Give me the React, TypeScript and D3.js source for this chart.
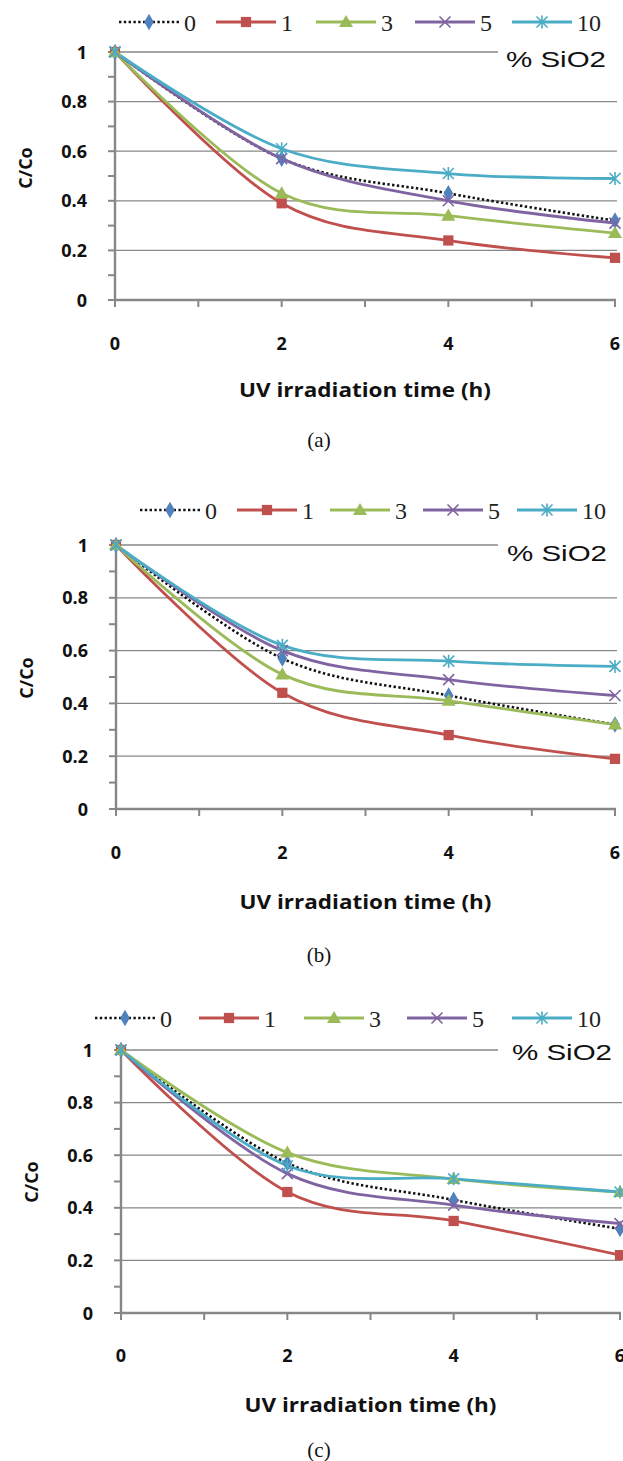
import React from "react";
import * as d3 from "d3";

const times = [0, 2, 4, 6];
const seriesNames = ["0", "1", "3", "5", "10"];
const seriesColors = ["#4F81BD", "#C0504D", "#9BBB59", "#8064A2", "#4BACC6"];
const yMajorTicks = [0, 0.2, 0.4, 0.6, 0.8, 1];
const yMinorTicks = [0.1, 0.3, 0.5, 0.7, 0.9];
const xMajorTicks = [0, 2, 4, 6];
const xMinorTicks = [1, 3, 5];
const panelLabels = ["(a)", "(b)", "(c)"];

// values per series (0,1,3,5,10 % SiO2) at times 0,2,4,6 h
const panelAValues = [
  [1, 0.57, 0.43, 0.32],
  [1, 0.39, 0.24, 0.17],
  [1, 0.43, 0.34, 0.27],
  [1, 0.57, 0.40, 0.31],
  [1, 0.61, 0.51, 0.49],
];
const panelBValues = [
  [1, 0.57, 0.43, 0.32],
  [1, 0.44, 0.28, 0.19],
  [1, 0.51, 0.41, 0.32],
  [1, 0.60, 0.49, 0.43],
  [1, 0.62, 0.56, 0.54],
];
const panelCValues = [
  [1, 0.57, 0.43, 0.32],
  [1, 0.46, 0.35, 0.22],
  [1, 0.61, 0.51, 0.46],
  [1, 0.53, 0.41, 0.34],
  [1, 0.56, 0.51, 0.46],
];
const panelValues = [panelAValues, panelBValues, panelCValues];

const layouts = [
  { x0: 115, x1: 615, yTop: 52, yBot: 300, legendY: 22, legendX: [119, 216, 316, 415, 512], xLabelY: 343, titleY: 390, capY: 440, yTitleY: 168, siBase: 67 },
  { x0: 116, x1: 615, yTop: 545, yBot: 809, legendY: 510, legendX: [140, 237, 330, 423, 517], xLabelY: 852, titleY: 902, capY: 955, yTitleY: 678, siBase: 561 },
  { x0: 121, x1: 620, yTop: 1050, yBot: 1313, legendY: 1018, legendX: [95, 199, 304, 407, 512], xLabelY: 1355, titleY: 1405, capY: 1450, yTitleY: 1182, siBase: 1060 },
];

const GRID = "#878787";
const SANS = "'Open Sans', 'Liberation Sans', sans-serif";
const SERIF = "'Liberation Serif', 'DejaVu Serif', serif";

function Marker({ idx, cx, cy }: { idx: number; cx: number; cy: number }) {
  const c = seriesColors[idx];
  if (idx === 0) {
    const p = d3.symbol().type(d3.symbolDiamond).size(80)();
    return <path d={p!} transform={`translate(${cx},${cy})`} fill={c} />;
  }
  if (idx === 1) {
    const p = d3.symbol().type(d3.symbolSquare).size(105)();
    return <path d={p!} transform={`translate(${cx},${cy})`} fill={c} />;
  }
  if (idx === 2) {
    const p = d3.symbol().type(d3.symbolTriangle).size(85)();
    return <path d={p!} transform={`translate(${cx},${cy + 1})`} fill={c} />;
  }
  const r = 5.5;
  if (idx === 3) {
    return (
      <path
        d={`M${cx - r},${cy - r}L${cx + r},${cy + r}M${cx - r},${cy + r}L${cx + r},${cy - r}`}
        stroke={c}
        strokeWidth={1.6}
        fill="none"
      />
    );
  }
  return (
    <path
      d={`M${cx - r},${cy - r}L${cx + r},${cy + r}M${cx - r},${cy + r}L${cx + r},${cy - r}M${cx},${cy - r - 1}L${cx},${cy + r + 1}`}
      stroke={c}
      strokeWidth={1.6}
      fill="none"
    />
  );
}

function Panel({ pi }: { pi: number }) {
  const L = layouts[pi];
  const values = panelValues[pi];
  const x = d3.scaleLinear().domain([0, 6]).range([L.x0, L.x1]);
  const y = d3.scaleLinear().domain([0, 1]).range([L.yBot, L.yTop]);
  const line = d3
    .line<number>()
    .x((_, i) => x(times[i]))
    .y((v) => y(v))
    .curve(d3.curveCardinal.tension(0));
  const midX = (L.x0 + L.x1) / 2;
  return (
    <g>
      {yMajorTicks.filter((t) => t > 0).map((t) => (
        <line key={"g" + t} x1={L.x0} x2={t === 1 ? 498 : L.x1 + 2} y1={y(t)} y2={y(t)} stroke={GRID} strokeWidth={1.3} />
      ))}
      {yMajorTicks.concat(yMinorTicks).map((t) => (
        <line key={"yt" + t} x1={L.x0 - 7} x2={L.x0} y1={y(t)} y2={y(t)} stroke={GRID} strokeWidth={2} />
      ))}
      {xMajorTicks.concat(xMinorTicks).map((t) => (
        <line key={"xt" + t} x1={x(t)} x2={x(t)} y1={L.yBot} y2={L.yBot + 7} stroke={GRID} strokeWidth={2} />
      ))}
      <line x1={L.x0} x2={L.x0} y1={L.yTop} y2={L.yBot} stroke={GRID} strokeWidth={2.4} />
      <line x1={L.x0} x2={L.x1 + 1} y1={L.yBot} y2={L.yBot} stroke={GRID} strokeWidth={2.4} />
      {yMajorTicks.map((t) => (
        <text key={"yl" + t} x={L.x0 - 28} y={y(t) + 6.5} textAnchor="end" fontFamily={SANS} fontWeight="bold" fontSize={18} fill="#111">
          {t === 0 || t === 1 ? String(t) : t.toFixed(1)}
        </text>
      ))}
      {xMajorTicks.map((t) => (
        <text key={"xl" + t} x={x(t)} y={L.xLabelY + 6.5} textAnchor="middle" fontFamily={SANS} fontWeight="bold" fontSize={18} fill="#111">
          {String(t)}
        </text>
      ))}
      <text x={midX} y={L.titleY + 7} textAnchor="middle" fontFamily={SANS} fontWeight="bold" fontSize={19.5} textLength={252} lengthAdjust="spacingAndGlyphs" fill="#111">
        UV irradiation time (h)
      </text>
      <text
        transform={`translate(${L.x0 - 89},${L.yTitleY}) rotate(-90)`}
        textAnchor="middle"
        fontFamily={SANS}
        fontWeight="bold"
        fontSize={18}
        fill="#111"
        dy={6}
      >
        C/Co
      </text>
      <text x={L.x0 + 391} y={L.siBase} fontFamily="'Liberation Sans', Arial, sans-serif" fontSize={22} textLength={100} lengthAdjust="spacingAndGlyphs" fill="#111">
        % SiO2
      </text>
      {values.map((vals, si) => (
        <path
          key={"l" + si}
          d={line(vals)!}
          fill="none"
          stroke={si === 0 ? "#111" : seriesColors[si]}
          strokeWidth={si === 0 ? 2.6 : 2.8}
          strokeDasharray={si === 0 ? "2.4 2.4" : undefined}
        />
      ))}
      {values.map((vals, si) =>
        vals.map((v, i) => <Marker key={"m" + si + "-" + i} idx={si} cx={x(times[i])} cy={y(v)} />)
      )}
      {seriesNames.map((name, si) => {
        const lx = L.legendX[si];
        return (
          <g key={"lg" + si}>
            <line
              x1={lx}
              x2={lx + 60}
              y1={L.legendY}
              y2={L.legendY}
              stroke={si === 0 ? "#111" : seriesColors[si]}
              strokeWidth={si === 0 ? 2.6 : 2.8}
              strokeDasharray={si === 0 ? "2.4 2.4" : undefined}
            />
            <Marker idx={si} cx={lx + 30} cy={L.legendY} />
            <text x={lx + 65} y={L.legendY + 8.5} fontFamily={SERIF} fontSize={24} fill="#222">
              {name}
            </text>
          </g>
        );
      })}
      <text x={319} y={L.capY + 7} textAnchor="middle" fontFamily={SERIF} fontSize={21} fill="#111">
        {panelLabels[pi]}
      </text>
    </g>
  );
}

export default function App() {
  return (
    <svg width={623} height={1461} style={{ position: "absolute", left: 0, top: 0, background: "#fff" }}>
      <rect x={0} y={0} width={623} height={1461} fill="#fff" />
      {[0, 1, 2].map((pi) => (
        <Panel key={pi} pi={pi} />
      ))}
    </svg>
  );
}
